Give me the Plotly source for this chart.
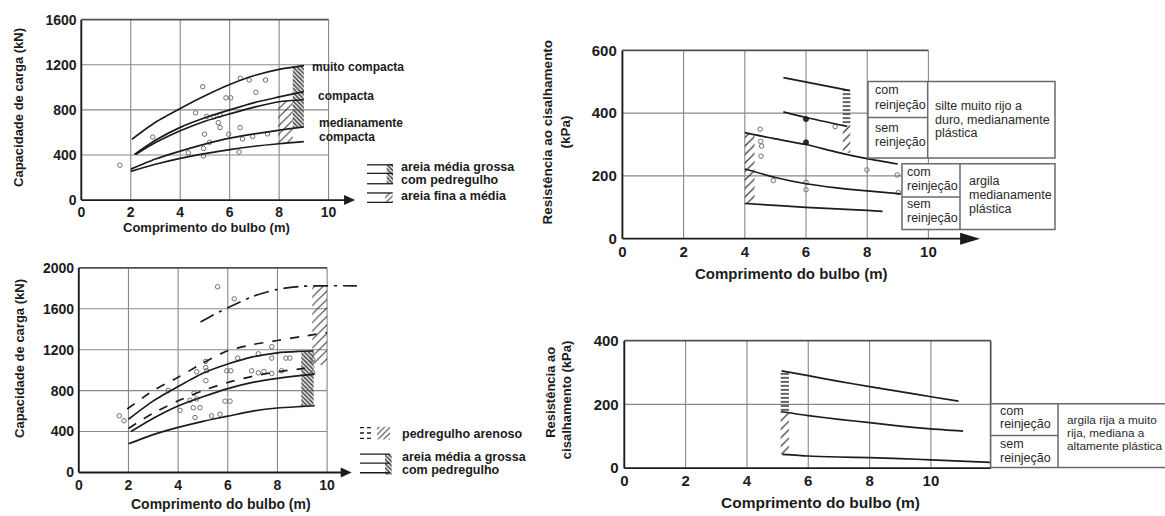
import plotly.graph_objects as go

W, H = 1165, 516
FONT = "Liberation Sans, Arial, Helvetica, sans-serif"
INK = "#1c1c1c"
GRID = "#888888"
FRAME = "#505050"
PTS = "#707070"
TABLE_INK = "#2a2a2a"

# ---------------- Panel A: capacidade de carga em areias ----------------
A_xticks = [0, 2, 4, 6, 8, 10]
A_yticks = [0, 400, 800, 1200, 1600]
A_muito_x = [2.05, 3, 4, 5, 6, 7, 8, 9]
A_muito_y = [540, 690, 812, 925, 1025, 1105, 1160, 1192]
A_comp1_x = [2.15, 3, 4, 5, 6, 7, 8, 9]
A_comp1_y = [405, 530, 645, 730, 800, 865, 915, 962]
A_comp2_x = [2.2, 3, 4, 5, 6, 7, 8, 9]
A_comp2_y = [405, 510, 615, 700, 765, 825, 872, 890]
A_med1_x = [2.0, 3, 4, 5, 6, 7, 8, 9]
A_med1_y = [275, 365, 435, 497, 550, 588, 620, 650]
A_med2_x = [2.0, 3, 4, 5, 6, 7, 8, 9]
A_med2_y = [255, 318, 370, 412, 448, 478, 500, 518]
A_pts_x = [1.56, 2.89, 4.91, 6.43, 6.79, 7.45, 7.06, 5.85, 6.04, 4.62, 5.07, 5.36, 5.61,
           5.54, 5.61, 6.42, 4.98, 5.19, 5.96, 6.52, 6.93, 7.53, 4.33, 4.94, 4.94, 6.38]
A_pts_y = [310, 559, 1006, 1081, 1065, 1065, 956, 907, 907, 774, 742, 739, 754,
           687, 643, 643, 585, 513, 585, 542, 565, 588, 420, 458, 392, 426]
A_coarse_x = [8.55, 9.0, 9.0, 8.55]      # areia média grossa com pedregulho
A_coarse_y = [1188, 1198, 652, 640]
A_fine_x = [7.95, 8.55, 8.55, 7.95]      # areia fina a média
A_fine_y = [868, 890, 515, 500]

# ---------------- Panel B: capacidade de carga em pedregulhos ----------------
B_xticks = [0, 2, 4, 6, 8, 10]
B_yticks = [0, 400, 800, 1200, 1600, 2000]
B_top_x = [4.9, 5.5, 6, 7, 8, 9, 10, 11.2]
B_top_y = [1470, 1550, 1610, 1720, 1790, 1820, 1825, 1825]
B_dashA_x = [1.95, 3, 4, 5, 6, 7, 8, 9, 10]
B_dashA_y = [620, 800, 930, 1070, 1190, 1250, 1290, 1330, 1368]
B_solidB_x = [2.0, 3, 4, 5, 6, 7, 8, 9, 9.45]
B_solidB_y = [520, 700, 840, 970, 1060, 1130, 1170, 1185, 1190]
B_dashC_x = [2.0, 3, 4, 5, 6, 7, 8, 9, 9.5]
B_dashC_y = [430, 580, 700, 800, 880, 940, 985, 1015, 1030]
B_solidD_x = [2.1, 3, 4, 5, 6, 7, 8, 9, 9.5]
B_solidD_y = [400, 530, 650, 740, 820, 880, 920, 950, 962]
B_solidE_x = [2.0, 3, 4, 5, 6, 7, 8, 9, 9.5]
B_solidE_y = [280, 370, 440, 500, 550, 600, 630, 645, 652]
B_pts_x = [1.63, 1.82, 5.59, 6.26, 5.11, 5.11, 4.75, 5.15, 5.96, 6.12, 5.12, 6.40, 7.23,
           7.77, 7.77, 8.34, 8.50, 6.96, 7.23, 7.46, 7.77, 8.17, 9.42, 9.42, 3.60, 4.64,
           4.48, 4.75, 4.08, 4.61, 4.88, 5.89, 6.09, 4.68, 5.35, 5.69]
B_pts_y = [553, 505, 1815, 1697, 1086, 1026, 984, 994, 994, 994, 898, 1118, 1160,
           1230, 1118, 1118, 1118, 994, 974, 987, 968, 994, 1102, 974, 802, 776,
           706, 719, 607, 633, 633, 697, 697, 537, 553, 569]
B_coarse_x = [8.96, 9.46, 9.46, 8.96]    # areia média a grossa com pedregulho
B_coarse_y = [1185, 1190, 660, 650]
B_gravel_x = [9.4, 10.0, 10.0, 9.4]      # pedregulho arenoso
B_gravel_y = [1824, 1826, 1040, 1060]

# ---------------- Panel C: resistência ao cisalhamento, silte e argila ----------------
C_xticks = [0, 2, 4, 6, 8, 10]
C_yticks = [0, 200, 400, 600]
C_silte_com_x = [5.26, 7.44]
C_silte_com_y = [513, 472]
C_silte_sem_x = [5.26, 6.0, 7.35]
C_silte_sem_y = [404, 386, 358]
C_arg_com_x = [4.0, 5, 6, 7, 8, 9.0]
C_arg_com_y = [338, 318, 300, 276, 255, 238]
C_arg_sem_x = [4.0, 5, 6, 7, 8, 9.1]
C_arg_sem_y = [222, 195, 175, 162, 152, 143]
C_low_x = [4.0, 5, 6, 7, 8, 8.5]
C_low_y = [112, 106, 100, 95, 90, 87]
C_pts_x = [4.50, 4.52, 4.55, 4.53, 4.93, 6.0, 6.0, 6.95, 7.99, 8.98, 9.02]
C_pts_y = [349, 310, 295, 263, 185, 180, 156, 357, 219, 203, 147]
C_solid_pts_x = [6.0, 6.0]
C_solid_pts_y = [381, 307]
C_left_diag_x = [4.0, 4.32, 4.32, 4.0]
C_left_diag_y = [338, 332, 110, 112]
C_right_hstripe_x = [7.2, 7.45, 7.45, 7.2]
C_right_hstripe_y = [476, 472, 362, 365]
C_right_diag_x = [7.2, 7.45, 7.45, 7.2]
C_right_diag_y = [365, 362, 272, 278]

# ---------------- Panel D: resistência ao cisalhamento, argila rija ----------------
D_xticks = [0, 2, 4, 6, 8, 10]
D_yticks = [0, 200, 400]
D_top_x = [5.13, 6, 7, 8, 9, 10, 10.9]
D_top_y = [305, 290, 272, 256, 240, 224, 210]
D_mid_x = [5.13, 6, 7, 8, 9, 10, 11.05]
D_mid_y = [177, 165, 153, 143, 132, 123, 116]
D_low_x = [5.15, 6, 7, 8, 9, 10, 11.95]
D_low_y = [43, 38, 35, 33, 30, 26, 18]
D_hstripe_x = [5.1, 5.37, 5.37, 5.1]
D_hstripe_y = [305, 300, 178, 180]
D_diag_x = [5.1, 5.37, 5.37, 5.1]
D_diag_y = [180, 178, 42, 44]

fig = go.Figure()
shapes, annots = [], []
layout_axes = {}


def setup_axes(n, x0, sx, y0, sy, xr, yr, xt, yt, fs, visible=True):
    """Place an axis pair so that data units map to a fixed pixel scale."""
    sfx = "" if n == 1 else str(n)
    xd = [max(0.0, (x0 + sx * xr[0]) / W), min(1.0, (x0 + sx * xr[1]) / W)]
    yd = [max(0.0, 1 - (y0 - sy * yr[0]) / H), min(1.0, 1 - (y0 - sy * yr[1]) / H)]
    tf = dict(family=FONT, size=fs, color=INK, weight="bold")
    common = dict(showgrid=False, zeroline=False, showline=False, ticks="",
                  fixedrange=True, tickfont=tf, visible=visible)
    layout_axes["xaxis" + sfx] = dict(domain=xd, range=xr, anchor="y" + sfx,
                                      tickvals=xt, **common)
    layout_axes["yaxis" + sfx] = dict(domain=yd, range=yr, anchor="x" + sfx,
                                      tickvals=yt, **common)
    return ("x" + sfx, "y" + sfx, xr, yr)


AX_A = setup_axes(1, 81.3, 24.73, 200.0, 0.115, [-0.15, 11.25], [-20, 1660], A_xticks, A_yticks, 14)
AX_B = setup_axes(2, 78.8, 24.83, 477.7, 0.1043, [-0.15, 11.4], [-25, 2050], B_xticks, B_yticks, 14)
AX_C = setup_axes(3, 622.4, 30.6, 239.3, 0.32, [-0.15, 14.4], [-8, 620], C_xticks, C_yticks, 15)
AX_D = setup_axes(4, 624.3, 30.66, 473.3, 0.325, [-0.15, 17.6], [-6, 415], D_xticks, D_yticks, 15)
# small axes holding the hatched legend keys
KEY_A = setup_axes(5, 358, 1.0, 206, 1.0, [0, 40], [0, 50], [], [], 10, visible=False)
KEY_B = setup_axes(6, 356, 1.0, 484, 1.0, [0, 40], [0, 58], [], [], 10, visible=False)


def curve(ax, x, y, dash="solid", width=1.7, color=INK, spline=True):
    fig.add_trace(go.Scatter(
        x=x, y=y, mode="lines", xaxis=ax[0], yaxis=ax[1], hoverinfo="skip",
        line=dict(color=color, width=width, dash=dash,
                  shape="spline" if spline else "linear", smoothing=0.7)))


def points(ax, x, y, symbol="circle-open", size=4.5, color=PTS):
    fig.add_trace(go.Scatter(
        x=x, y=y, mode="markers", xaxis=ax[0], yaxis=ax[1], hoverinfo="skip",
        marker=dict(symbol=symbol, size=size, color=color, line=dict(width=1, color=color))))


def hatch(ax, x, y, shape, size, solidity, fg="#3a3a3a"):
    fig.add_trace(go.Scatter(
        x=list(x) + [x[0]], y=list(y) + [y[0]], mode="lines", fill="toself",
        xaxis=ax[0], yaxis=ax[1], hoverinfo="skip",
        line=dict(width=0, color="rgba(0,0,0,0)"),
        fillcolor="rgba(0,0,0,0)",
        fillpattern=dict(shape=shape, size=size, solidity=solidity,
                         fgcolor=fg, bgcolor="rgba(0,0,0,0)", fillmode="replace")))


def seg(ax, x0, y0, x1, y1, color=GRID, width=1.1, layer="below", dash="solid"):
    shapes.append(dict(type="line", xref=ax[0], yref=ax[1], x0=x0, y0=y0, x1=x1, y1=y1,
                       line=dict(color=color, width=width, dash=dash), layer=layer))


def frame(ax, xgrid, ygrid, xbox, ytop, axis_end, right_border=False):
    for gx in xgrid:
        seg(ax, gx, 0, gx, ytop)
    for gy in ygrid:
        seg(ax, 0, gy, xbox, gy)
    seg(ax, 0, ytop, xbox, ytop, FRAME, 1.7)
    if right_border:
        seg(ax, xbox, 0, xbox, ytop, FRAME, 1.7)
    seg(ax, 0, 0, 0, ytop, INK, 1.9)
    seg(ax, 0, 0, axis_end, 0, INK, 1.9)


def arrowhead(ax, tip, length, half):
    xr, yr = ax[2], ax[3]
    shapes.append(dict(
        type="path", xref=ax[0] + " domain", yref=ax[1] + " domain",
        xsizemode="pixel", ysizemode="pixel",
        xanchor=(tip - xr[0]) / (xr[1] - xr[0]), yanchor=(0 - yr[0]) / (yr[1] - yr[0]),
        path=f"M {-length} {-half} L 0 0 L {-length} {half} Z",
        fillcolor=INK, line=dict(width=0), layer="above"))


def text(s, px, py, size=12, bold=False, anchor="left", angle=0, color=INK):
    annots.append(dict(
        text=f"<b>{s}</b>" if bold else s, x=px / W, y=1 - py / H,
        xref="paper", yref="paper", xanchor=anchor, yanchor="middle",
        showarrow=False, textangle=angle,
        font=dict(family=FONT, size=size, color=color)))


def cell(s, px, py, size=12.5):
    text(s, px, py, size, False, color=TABLE_INK)


def box(x0, y0, x1, y1):
    shapes.append(dict(type="rect", xref="paper", yref="paper",
                       x0=x0 / W, x1=x1 / W, y0=1 - y1 / H, y1=1 - y0 / H,
                       line=dict(color="#6a6a6a", width=1.5), fillcolor="white", layer="above"))


def pline(x0, y0, x1, y1):
    shapes.append(dict(type="line", xref="paper", yref="paper",
                       x0=x0 / W, x1=x1 / W, y0=1 - y0 / H, y1=1 - y1 / H,
                       line=dict(color="#6a6a6a", width=1.5), layer="above"))


# ---------- Panel A ----------
frame(AX_A, [2, 4, 6, 8, 10], [400, 800, 1200], 10, 1600, 10.8)
arrowhead(AX_A, 11.07, 11, 5)
hatch(AX_A, A_fine_x, A_fine_y, "/", 6, 0.18)
hatch(AX_A, A_coarse_x, A_coarse_y, "\\", 3, 0.6, "#555")
points(AX_A, A_pts_x, A_pts_y)
for cx, cy in [(A_muito_x, A_muito_y), (A_comp1_x, A_comp1_y), (A_comp2_x, A_comp2_y),
               (A_med1_x, A_med1_y), (A_med2_x, A_med2_y)]:
    curve(AX_A, cx, cy)

text("muito compacta", 310, 64, 12, True)
text("compacta", 316, 94, 12, True)
text("medianamente", 316.5, 121.5, 12, True)
text("compacta", 316.5, 136, 12, True)
text("Capacidade de carga (kN)", 19, 106, 13, True, "center", -90)
text("Comprimento do bulbo (m)", 206, 228, 13, True, "center")

# legend keys of panel A
for ky in [42, 33.3, 22.7]:
    seg(KEY_A, 9, ky, 35, ky, INK, 1.3, "above")
hatch(KEY_A, [28.7, 35, 35, 28.7], [43, 43, 22.7, 22.7], "\\", 3, 0.6, "#555")
for ky in [13.3, 3.7]:
    seg(KEY_A, 9, ky, 34.7, ky, INK, 1.3, "above")
hatch(KEY_A, [27, 34.7, 34.7, 27], [13.3, 13.3, 3.7, 3.7], "/", 4, 0.25)
text("areia média grossa", 398.5, 166.7, 12.5, True)
text("com pedregulho", 398.5, 179.3, 12.5, True)
text("areia fina a média", 398.5, 196, 12.5, True)

# ---------- Panel B ----------
frame(AX_B, [2, 4, 6, 8, 10], [400, 800, 1200, 1600], 10, 2000, 10.7)
arrowhead(AX_B, 10.99, 11, 5)
hatch(AX_B, B_gravel_x, B_gravel_y, "/", 6, 0.18)
hatch(AX_B, B_coarse_x, B_coarse_y, "\\", 3, 0.6, "#555")
points(AX_B, B_pts_x, B_pts_y)
curve(AX_B, B_top_x, B_top_y, "longdashdot")
curve(AX_B, B_dashA_x, B_dashA_y, "dash")
curve(AX_B, B_solidB_x, B_solidB_y)
curve(AX_B, B_dashC_x, B_dashC_y, "dash")
curve(AX_B, B_solidD_x, B_solidD_y)
curve(AX_B, B_solidE_x, B_solidE_y)

text("Capacidade de carga (kN)", 20, 362, 13, True, "center", -90)
text("Comprimento do bulbo (m)", 221, 510, 14, True, "center")

# legend keys of panel B
for ky in [52, 46.5, 41]:
    seg(KEY_B, 4, ky, 16, ky, INK, 1.3, "above", "4px,3px")
hatch(KEY_B, [21, 34, 34, 21], [53, 53, 40, 40], "/", 4, 0.25)
for ky in [25, 15.7, 6]:
    seg(KEY_B, 4, ky, 34, ky, INK, 1.3, "above")
hatch(KEY_B, [29, 35.7, 35.7, 29], [25, 25, 4, 4], "\\", 3, 0.6, "#555")
text("pedregulho arenoso", 400, 438.3, 12.5, True)
text("areia média a grossa", 400, 462.3, 12.5, True)
text("com pedregulho", 400, 475, 12.5, True)

# ---------- Panel C ----------
frame(AX_C, [2, 4, 6, 8, 10], [200, 400], 10, 600, 11.3)
arrowhead(AX_C, 11.69, 20, 6)
hatch(AX_C, C_left_diag_x, C_left_diag_y, "/", 6, 0.2)
hatch(AX_C, C_right_hstripe_x, C_right_hstripe_y, "-", 4, 0.4)
hatch(AX_C, C_right_diag_x, C_right_diag_y, "/", 6, 0.2)
points(AX_C, C_pts_x, C_pts_y)
points(AX_C, C_solid_pts_x, C_solid_pts_y, "circle", 5, "#2a2a2a")
for cx, cy in [(C_silte_com_x, C_silte_com_y), (C_silte_sem_x, C_silte_sem_y),
               (C_arg_com_x, C_arg_com_y), (C_arg_sem_x, C_arg_sem_y), (C_low_x, C_low_y)]:
    curve(AX_C, cx, cy)

text("Resistência ao cisalhamento", 547, 131, 13.5, True, "center", -90)
text("(kPa)", 565, 131, 13.5, True, "center", -90)
text("Comprimento do bulbo (m)", 791, 275, 15, True, "center")

# soil description tables
box(868, 79, 1055, 157)
pline(927.7, 79, 927.7, 157)
pline(868, 115.7, 927.7, 115.7)
cell("com", 873, 88)
cell("reinjeção", 873, 102.5)
cell("sem", 873, 126)
cell("reinjeção", 873, 140.5)
cell("silte muito rijo a", 933, 104.3)
cell("duro, medianamente", 933, 118.3)
cell("plástica", 933, 132)

box(902, 163, 1055, 230)
pline(960, 163, 960, 230)
pline(902, 196.7, 960, 196.7)
cell("com", 904.5, 171)
cell("reinjeção", 904.5, 185.7)
cell("sem", 904.5, 204.3)
cell("reinjeção", 904.5, 218.5)
cell("argila", 967, 181)
cell("medianamente", 967, 195)
cell("plástica", 967, 209)

# ---------- Panel D ----------
frame(AX_D, [2, 4, 6, 8, 10], [200], 11.95, 400, 11.95, right_border=True)
hatch(AX_D, D_hstripe_x, D_hstripe_y, "-", 4, 0.4)
hatch(AX_D, D_diag_x, D_diag_y, "/", 6, 0.2)
for cx, cy in [(D_top_x, D_top_y), (D_mid_x, D_mid_y), (D_low_x, D_low_y)]:
    curve(AX_D, cx, cy)

text("Resistência ao", 551, 396.5, 13, True, "center", -90)
text("cisalhamento (kPa)", 566, 404, 13, True, "center", -90)
text("Comprimento do bulbo (m)", 820, 508, 15.5, True, "center")

box(990.7, 407.7, 1180, 472.7)
pline(1058, 407.7, 1058, 472.7)
pline(990.7, 440, 1058, 440)
cell("com", 997.5, 415)
cell("reinjeção", 997.5, 428.7)
cell("sem", 997.5, 448.3)
cell("reinjeção", 997.5, 462.7)
cell("argila rija a muito", 1064.5, 424.3, 11.8)
cell("rija, mediana a", 1064.5, 437.3, 11.8)
cell("altamente plástica", 1064.5, 450.7, 11.8)

fig.update_layout(
    width=W, height=H, autosize=False,
    margin=dict(l=0, r=0, t=0, b=0),
    paper_bgcolor="white", plot_bgcolor="rgba(0,0,0,0)",
    showlegend=False, shapes=shapes, annotations=annots,
    font=dict(family=FONT, color=INK),
    **layout_axes,
)

fig.write_html("out.html")
